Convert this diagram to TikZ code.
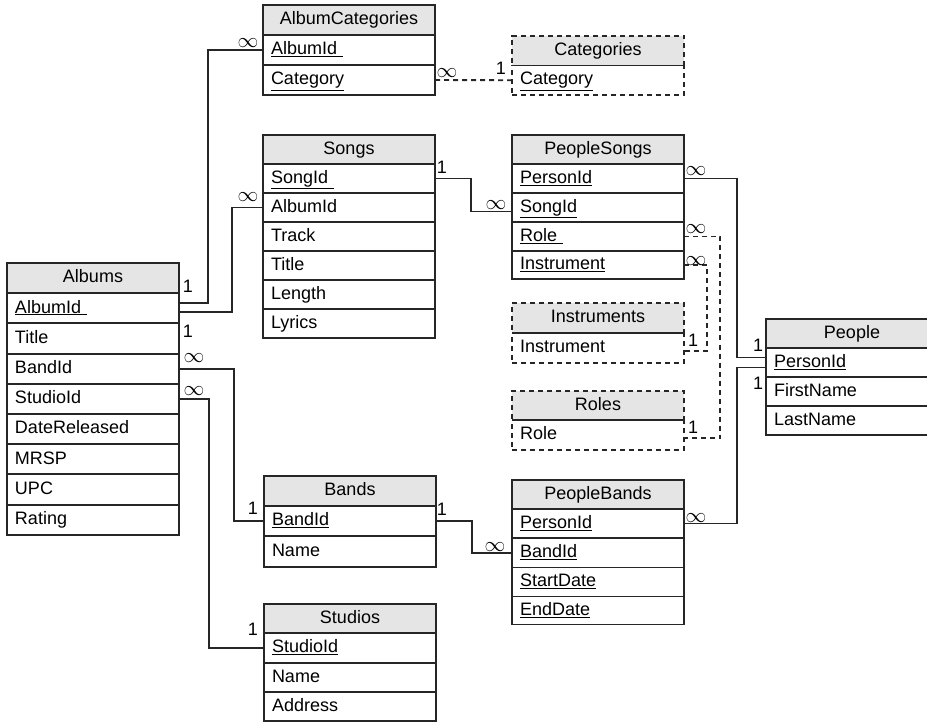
\documentclass[tikz,border=0pt]{standalone}
\usepackage{fontspec}
\setmainfont{Liberation Sans}
\usetikzlibrary{positioning}

\begin{document}
\begin{tikzpicture}[x=1pt, y=-1pt,
  tbl/.style={draw=black!85, line width=1.9pt, outer sep=0pt, text width=156pt,
    inner xsep=8pt, inner ysep=0pt, minimum height=29.5pt, text height=13pt,
    text depth=3.5pt, font=\fontsize{18}{20}\selectfont},
  hdr/.style={tbl, fill=black!10, align=center, anchor=north west},
  fld/.style={tbl, align=left, below=0pt of #1},
  opt/.style={dash pattern=on 5pt off 4pt},
  link/.style={draw=black!85, line width=1.9pt},
  card/.style={inner sep=0pt, font=\fontsize{18}{20}\selectfont},
  many/.style={inner sep=0pt, font=\fontsize{22}{22}\selectfont},
]
\useasboundingbox (0,0) rectangle (927,722);
\clip (0,0) rectangle (927,722);

% Albums
\node[hdr, minimum height=30.2pt] (alb) at (7,263) {Albums};
\node[fld=alb, minimum height=30.2pt] (alb-id) {\underline{AlbumId\ }};
\node[fld=alb-id, minimum height=30.2pt] (alb-title) {Title};
\node[fld=alb-title, minimum height=30.2pt] (alb-band) {BandId};
\node[fld=alb-band, minimum height=30.2pt] (alb-studio) {StudioId};
\node[fld=alb-studio, minimum height=30.2pt] (alb-date) {DateReleased};
\node[fld=alb-date, minimum height=30.2pt] (alb-mrsp) {MRSP};
\node[fld=alb-mrsp, minimum height=30.2pt] (alb-upc) {UPC};
\node[fld=alb-upc, minimum height=30.2pt] (alb-rating) {Rating};

% AlbumCategories and Categories
\node[hdr, minimum height=30pt] (ac) at (263,5) {AlbumCategories};
\node[fld=ac, minimum height=30pt] (ac-album) {\underline{AlbumId\ }};
\node[fld=ac-album, minimum height=30pt] (ac-cat) {\underline{Category}};

\node[hdr, opt] (cat) at (512,36) {Categories};
\node[fld=cat, opt] (cat-cat) {\underline{Category}};
\draw[link] (cat.south west) -- (cat.south east);

% Songs
\node[hdr, minimum height=29pt] (songs) at (263,135) {Songs};
\node[fld=songs, minimum height=29pt] (s-id) {\underline{SongId\ }};
\node[fld=s-id, minimum height=29pt] (s-album) {AlbumId};
\node[fld=s-album, minimum height=29pt] (s-track) {Track};
\node[fld=s-track, minimum height=29pt] (s-title) {Title};
\node[fld=s-title, minimum height=29pt] (s-length) {Length};
\node[fld=s-length, minimum height=29pt] (s-lyrics) {Lyrics};

% PeopleSongs
\node[hdr, minimum height=29pt] (ps) at (512,135) {PeopleSongs};
\node[fld=ps, minimum height=29pt] (ps-person) {\underline{PersonId}};
\node[fld=ps-person, minimum height=29pt] (ps-song) {\underline{SongId}};
\node[fld=ps-song, minimum height=29pt] (ps-role) {\underline{Role\ }};
\node[fld=ps-role, minimum height=28pt] (ps-instr) {\underline{Instrument}};

% Instruments and Roles
\node[hdr, opt, minimum height=30pt] (ins) at (512,303) {Instruments};
\node[fld=ins, opt, minimum height=30pt] (ins-instr) {Instrument};
\draw[link] (ins.south west) -- (ins.south east);

\node[hdr, opt, minimum height=29pt] (rol) at (512,391) {Roles};
\node[fld=rol, opt, minimum height=30pt] (rol-role) {Role};
\draw[link] (rol.south west) -- (rol.south east);

% People
\node[hdr, minimum height=29pt] (ppl) at (766,319) {People};
\node[fld=ppl, minimum height=29pt] (ppl-id) {\underline{PersonId}};
\node[fld=ppl-id, minimum height=29pt] (ppl-first) {FirstName};
\node[fld=ppl-first, minimum height=29pt] (ppl-last) {LastName};

% Bands and Studios
\node[hdr, minimum height=30pt] (bands) at (264,476) {Bands};
\node[fld=bands, minimum height=30.3pt] (b-id) {\underline{BandId}};
\node[fld=b-id, minimum height=30.3pt] (b-name) {Name};

\node[hdr, minimum height=29.3pt] (stu) at (264,604) {Studios};
\node[fld=stu, minimum height=29.3pt] (stu-id) {\underline{StudioId}};
\node[fld=stu-id, minimum height=29.3pt] (stu-name) {Name};
\node[fld=stu-name, minimum height=29.3pt] (stu-addr) {Address};

% PeopleBands
\node[hdr, minimum height=29pt] (pb) at (512,480) {PeopleBands};
\node[fld=pb, minimum height=29pt] (pb-person) {\underline{PersonId}};
\node[fld=pb-person, minimum height=29.5pt] (pb-band) {\underline{BandId}};
\node[fld=pb-band, minimum height=29pt] (pb-start) {\underline{StartDate}};
\node[fld=pb-start, minimum height=28pt] (pb-end) {\underline{EndDate}};

% relationships
\draw[link] ([yshift=5pt]alb-id.east) -- ++(29,0) |- (ac-album.west);
\draw[link] ([yshift=-4pt]alb-id.east) -- ++(53,0) |- (s-album.west);
\draw[link] (alb-band.east) -- ++(55,0) |- (b-id.west);
\draw[link] (alb-studio.east) -- ++(30,0) |- (stu-id.west);
\draw[link] (s-id.east) -- ++(36,0) |- ([yshift=-4pt]ps-song.west);
\draw[link] (ps-person.east) -- ++(53,0) |- ([yshift=5pt]ppl-id.west);
\draw[link] (pb-person.east) -- ++(53,0) |- ([yshift=-5pt]ppl-id.west);
\draw[link] (b-id.east) -- ++(36,0) |- (pb-band.west);
\draw[link, opt] (ac-cat.east) -- (cat-cat.west);
\draw[link, opt] (ps-role.east) -- ++(36,0) |- ([yshift=-3pt]rol-role.east);
\draw[link, opt] (ps-instr.east) -- ++(23,0) |- ([yshift=-3pt]ins-instr.east);

% cardinalities
\node[card] (c1) at (188,286) {1};
\node[card] (c2) at (188,331) {1};
\node[many] (m1) at (248,43) {$\infty$};
\node[many] (m2) at (248,197) {$\infty$};
\node[many] (m3) at (194,358) {$\infty$};
\node[many] (m4) at (194,391) {$\infty$};
\node[card] (c3) at (253,508) {1};
\node[card] (c4) at (253,629) {1};
\node[card] (c5) at (442,167) {1};
\node[many] (m5) at (496,205) {$\infty$};
\node[many] (m6) at (696,171) {$\infty$};
\node[card] (c6) at (758,345) {1};
\node[many] (m7) at (696,518) {$\infty$};
\node[card] (c7) at (758,383) {1};
\node[many] (m8) at (696,229) {$\infty$};
\node[card] (c8) at (693,427) {1};
\node[many] (m9) at (696,261) {$\infty$};
\node[card] (c9) at (693,340) {1};
\node[card] (c10) at (442,509) {1};
\node[many] (m10) at (495,547) {$\infty$};
\node[many] (m11) at (447,73) {$\infty$};
\node[card] (c11) at (501,68) {1};
\end{tikzpicture}
\end{document}
